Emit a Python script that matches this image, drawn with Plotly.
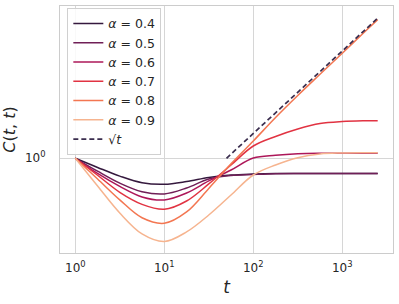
import plotly.graph_objects as go

# sample times (quarter-decade steps)
t = [1, 1.78, 3.16, 5.62, 10, 17.8, 31.6, 56.2, 100, 178, 316, 562, 1000, 1778, 2500]

alpha_labels = ["0.4", "0.5", "0.6", "0.7", "0.8", "0.9"]
c_a04 = [1.0, 0.880, 0.780, 0.711, 0.696, 0.723, 0.765, 0.792, 0.803, 0.809, 0.809, 0.809, 0.809, 0.809, 0.809]
c_a05 = [1.0, 0.835, 0.707, 0.627, 0.608, 0.661, 0.749, 0.787, 0.798, 0.807, 0.809, 0.809, 0.809, 0.809, 0.809]
c_a06 = [1.0, 0.809, 0.675, 0.583, 0.559, 0.616, 0.729, 0.849, 1.004, 1.043, 1.065, 1.072, 1.072, 1.072, 1.072]
c_a07 = [1.0, 0.789, 0.622, 0.526, 0.491, 0.551, 0.699, 0.911, 1.187, 1.356, 1.505, 1.625, 1.671, 1.688, 1.690]
c_a08 = [1.0, 0.749, 0.560, 0.436, 0.404, 0.473, 0.656, 0.925, 1.273, 1.767, 2.402, 3.229, 4.335, 5.829, 6.928]
c_a09 = [1.0, 0.679, 0.466, 0.348, 0.313, 0.358, 0.453, 0.599, 0.792, 0.911, 1.008, 1.062, 1.077, 1.081, 1.081]
series = [c_a04, c_a05, c_a06, c_a07, c_a08, c_a09]

# sqrt(t) guide line
t_sqrt = [50, 2500]
c_sqrt = [1.0, 7.07]

x_tickvals = [1, 10, 100, 1000]
x_ticktext = ["10<sup>0</sup>", "10<sup>1</sup>", "10<sup>2</sup>", "10<sup>3</sup>"]
y_tickvals = [1]
y_ticktext = ["10<sup>0</sup>"]

colors = ["#35193e", "#701f57", "#ad1759", "#e13342", "#f37651", "#f6b48f"]

fig = go.Figure()
for lab, vals, col in zip(alpha_labels, series, colors):
    fig.add_trace(go.Scatter(
        x=t, y=vals, mode="lines", name=f"<i>α</i> = {lab}",
        line=dict(color=col, width=1.5, shape="spline", smoothing=1.0),
    ))
fig.add_trace(go.Scatter(
    x=t_sqrt, y=c_sqrt, mode="lines", name="√<i>t</i>",
    line=dict(color="#3a2d4e", width=1.7, dash="5px,3px"),
))

font_family = "DejaVu Sans"
text_col = "#262626"
grid_col = "#d6d6d6"

fig.update_layout(
    width=399, height=304,
    margin=dict(l=60, r=6, t=6, b=51, autoexpand=False),
    paper_bgcolor="white", plot_bgcolor="white",
    font=dict(family=font_family, color=text_col, size=12),
    showlegend=True,
    legend=dict(
        x=0.022, y=0.992, xanchor="left", yanchor="top",
        bgcolor="rgba(255,255,255,0.85)", bordercolor="#d0d0d0", borderwidth=1,
        font=dict(family=font_family, size=12.5, color=text_col),
        itemwidth=30,
    ),
    xaxis=dict(
        type="log", range=[-0.172, 3.570], automargin=False,
        tickvals=x_tickvals, ticktext=x_ticktext,
        showgrid=True, gridcolor=grid_col, gridwidth=1,
        showline=True, linecolor="#cccccc", linewidth=1, mirror=True,
        ticks="", zeroline=False, ticklabelstandoff=4,
        tickfont=dict(size=12, color=text_col),
        title=dict(text="<i>t</i>", font=dict(size=17, color=text_col), standoff=6),
    ),
    yaxis=dict(
        type="log", range=[-0.574, 0.923], automargin=False,
        tickvals=y_tickvals, ticktext=y_ticktext,
        showgrid=True, gridcolor=grid_col, gridwidth=1,
        showline=True, linecolor="#cccccc", linewidth=1, mirror=True,
        ticks="", zeroline=False, ticklabelstandoff=11,
        tickfont=dict(size=12, color=text_col),
        title=dict(text="<i>C</i>(<i>t</i>, <i>t</i>)", font=dict(size=16, color=text_col), standoff=5),
    ),
)

fig.write_html("out.html", config={"displayModeBar": False},
               post_script="document.body.style.margin='0px';")
